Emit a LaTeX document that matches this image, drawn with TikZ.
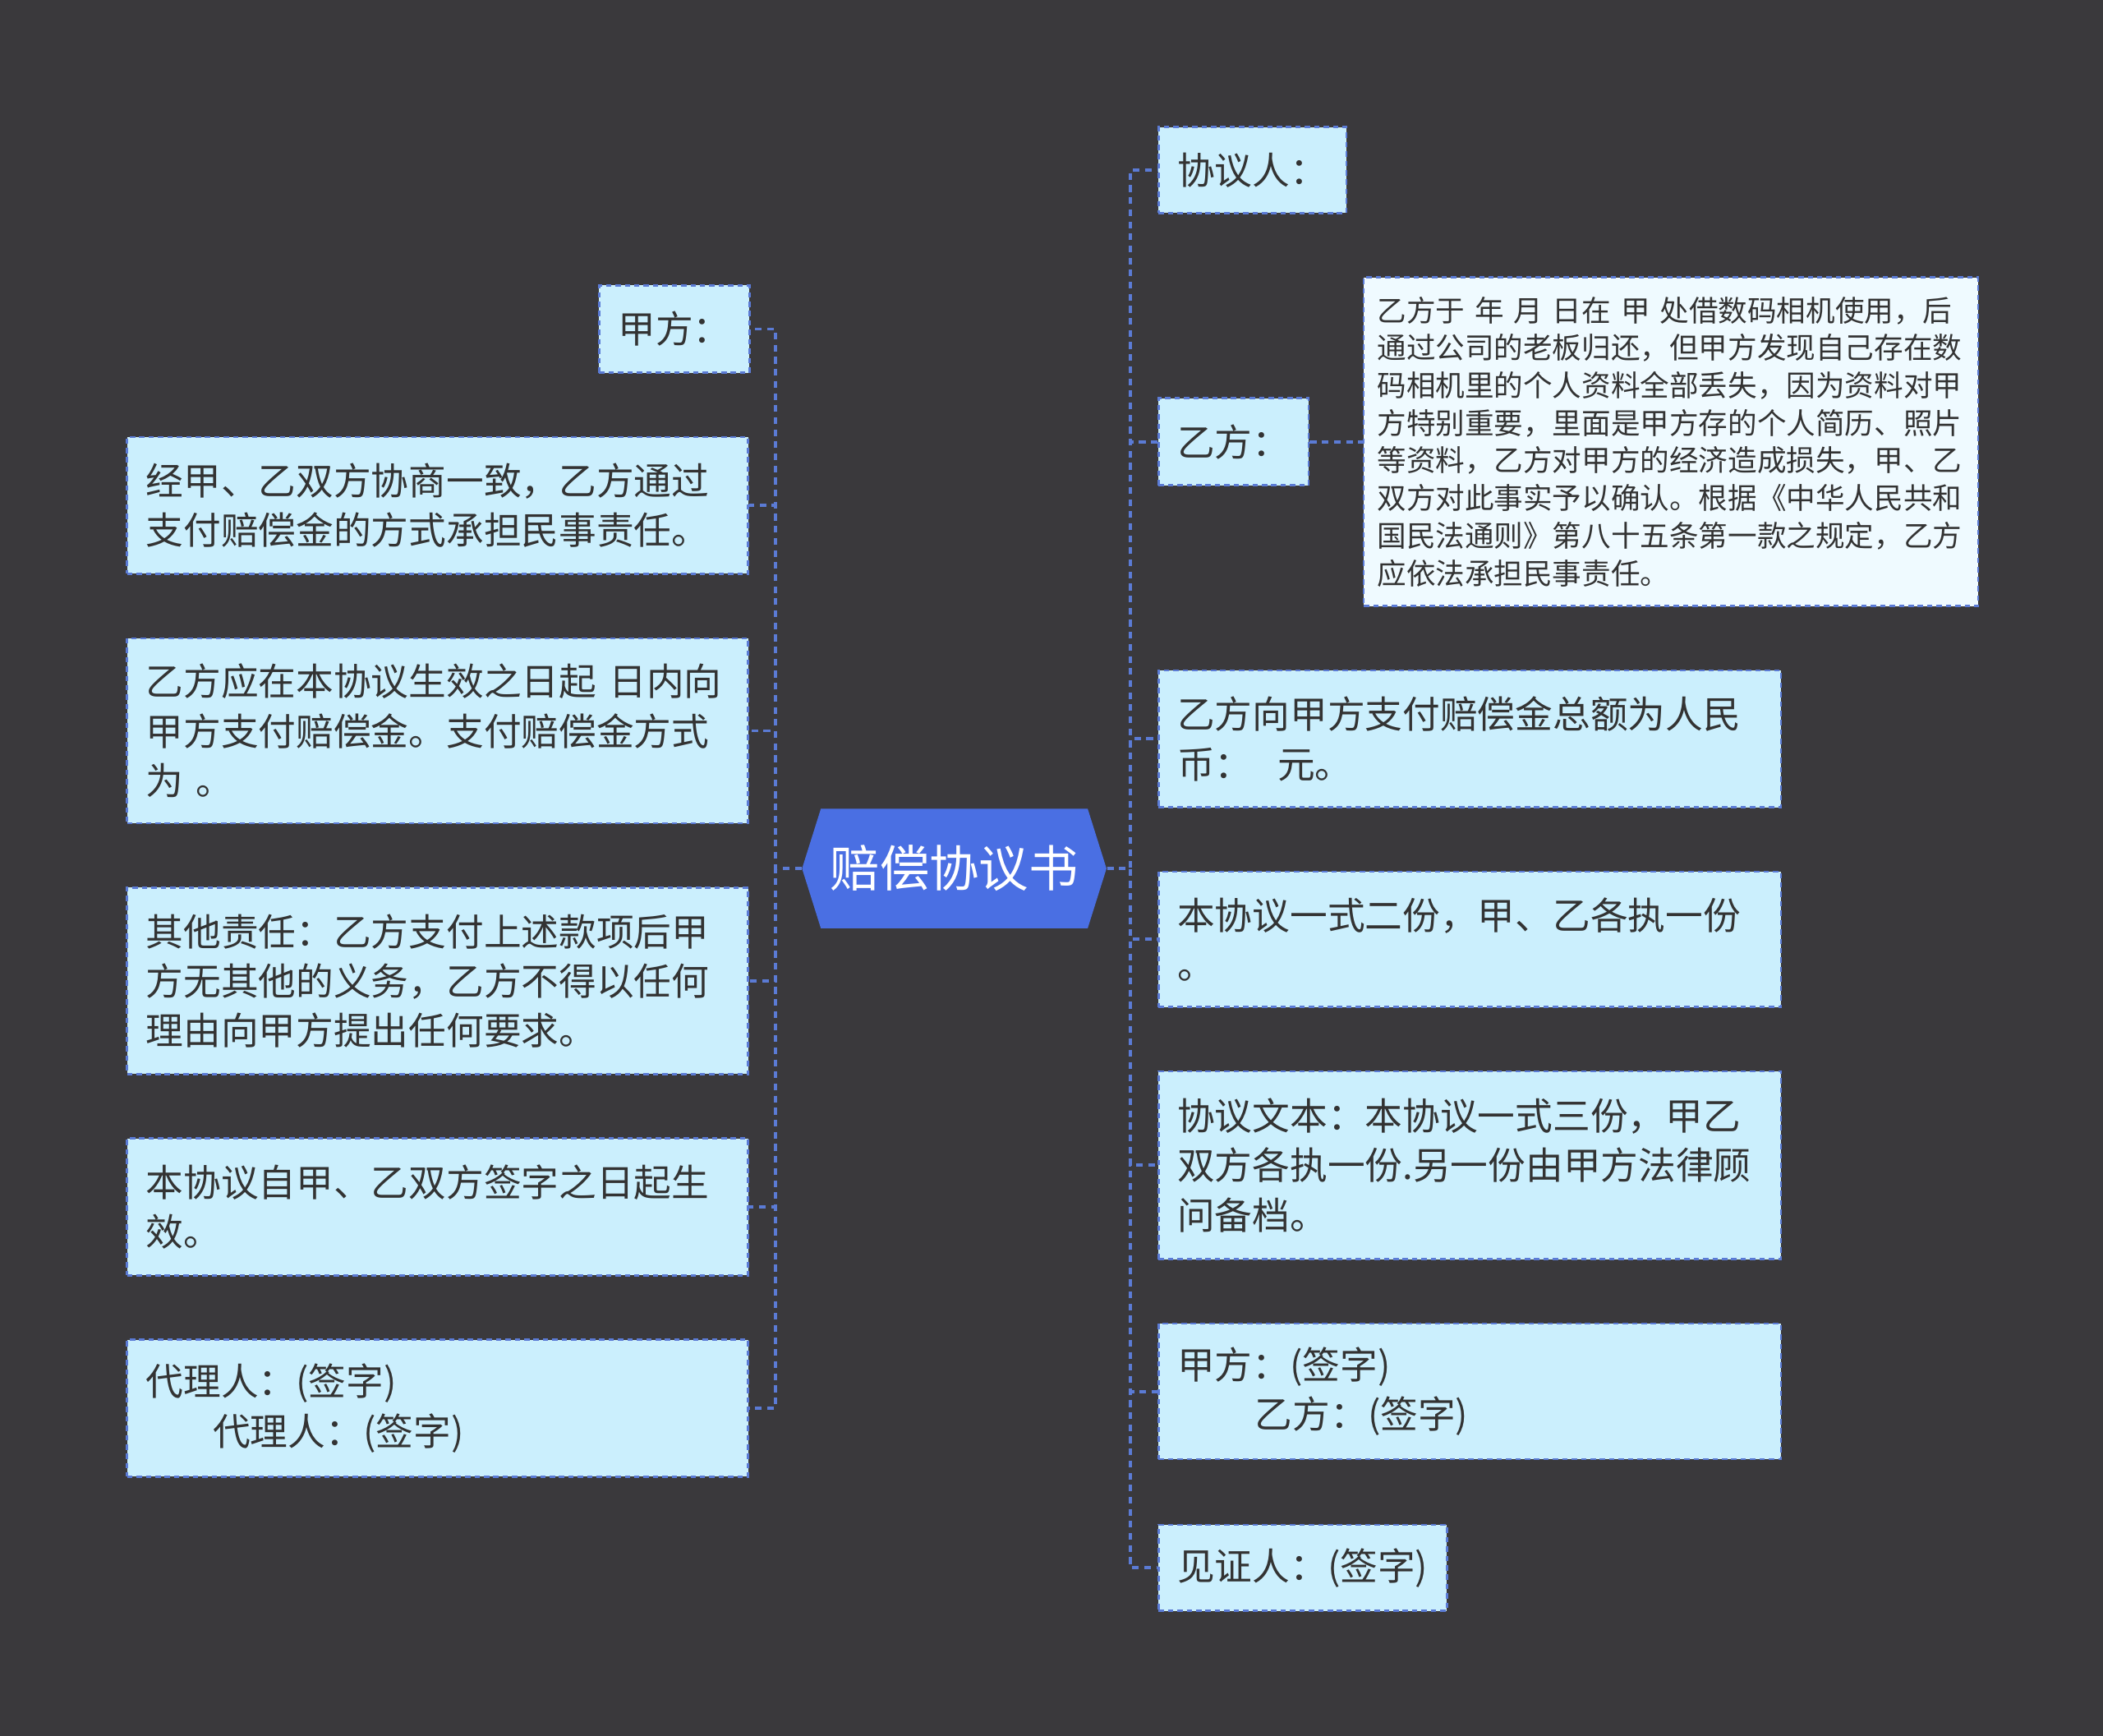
\documentclass[tikz,border=0pt]{standalone}
\usepackage{fontspec}
\setmainfont{Noto Sans CJK SC}
\definecolor{bg}{HTML}{3A393C}
\definecolor{boxfill}{HTML}{CBEFFD}
\definecolor{lightfill}{HTML}{EFFAFF}
\definecolor{edge}{HTML}{5B7BD5}
\definecolor{ctr}{HTML}{4A6FE3}
\definecolor{txt}{HTML}{333333}
\tikzset{
  box/.style={draw=edge, fill=boxfill, line width=0.8pt, dash pattern=on 2pt off 1.5pt,
    anchor=north west, inner xsep=7pt, inner ysep=0pt, align=left, text=txt,
    font=\fontsize{14pt}{18.5pt}\selectfont},
  small/.style={box, fill=lightfill, inner xsep=5pt, font=\fontsize{10.9pt}{14pt}\selectfont},
  link/.style={draw=edge, line width=1.2pt, dash pattern=on 2.5pt off 2pt},
}
\begin{document}
\begin{tikzpicture}[x=0.5pt,y=-0.5pt]
\fill[bg] (0,0) rectangle (1568,1294);
\fill[ctr] (598,647.5) -- (612,603) -- (811,603) -- (825,647.5) -- (811,692) -- (612,692) -- cycle;
\node[text=white, minimum width=113.5pt, minimum height=44.5pt, inner sep=0pt, font=\fontsize{18.5pt}{22pt}\selectfont] (c) at (711.5,647.5) {赔偿协议书};
% left
\node[box, minimum width=55.5pt, minimum height=32.5pt] (l1) at (446,212) {甲方：};
\node[box, text width=217.5pt, minimum height=51pt] (l2) at (94,325) {经甲、乙双方协商一致，乙方通过\\支付赔偿金的方式承担民事责任。};
\node[box, text width=217.5pt, minimum height=69pt] (l3) at (94,475) {乙方应在本协议生效之日起 日内向\\甲方支付赔偿金。支付赔偿金方式\\为 。};
\node[box, text width=217.5pt, minimum height=69.5pt] (l4) at (94,661) {其他责任：乙方支付上述款项后甲\\方无其他的义务，乙方不得以任何\\理由向甲方提出任何要求。};
\node[box, text width=217.5pt, minimum height=51pt] (l5) at (94,848) {本协议自甲、乙双方签字之日起生\\效。};
\node[box, text width=217.5pt, minimum height=51pt] (l6) at (94,998) {代理人：(签字)\\\hspace*{25pt}代理人：(签字)};
% right
\node[box, minimum width=70pt, minimum height=32pt] (r1) at (863,94) {协议人：};
\node[box, minimum width=56pt, minimum height=32.5pt] (r2) at (863,296) {乙方：};
\node[small, text width=219pt, minimum height=122.5pt] (r2c) at (1016,206) {乙方于 年 月 日在 甲 处借数码相机使用，后\\通过公司的老板归还，但甲方发现自己存在数\\码相机里的个人资料全部丢失，因为资料对甲\\方特别重要，里面是甲方存的个人简历、照片\\等资料，乙方对甲方的经济造成损失，甲、乙\\双方对此事实予以确认。根据《中华人民共和\\国民法通则》第八十五条第一款之规定，乙方\\应依法承担民事责任。};
\node[box, text width=218pt, minimum height=51pt] (r3) at (863,499) {乙方向甲方支付赔偿金总额为人民\\币：\ \ 元。};
\node[box, text width=218pt, minimum height=50.5pt] (r4) at (863,649) {本协议一式二份，甲、乙各执一份\\。};
\node[box, text width=218pt, minimum height=70pt] (r5) at (863,798) {协议文本：本协议一式三份，甲乙\\双方各执一份.另一份由甲方法律顾\\问备档。};
\node[box, text width=218pt, minimum height=50.5pt] (r6) at (863,986) {甲方：(签字)\\\hspace*{29pt}乙方：(签字)};
\node[box, minimum width=107.5pt, minimum height=32pt] (r7) at (863,1136) {见证人：(签字)};
% links
\foreach \n in {l1,l2,l3,l4,l5,l6} \draw[link] (c.west) -- (578,647.5) |- (\n.east);
\foreach \n in {r1,r2,r3,r4,r5,r6,r7} \draw[link] (c.east) -- (843,647.5) |- (\n.west);
\draw[link] (r2.east) -- (r2c.west);
\end{tikzpicture}
\end{document}
